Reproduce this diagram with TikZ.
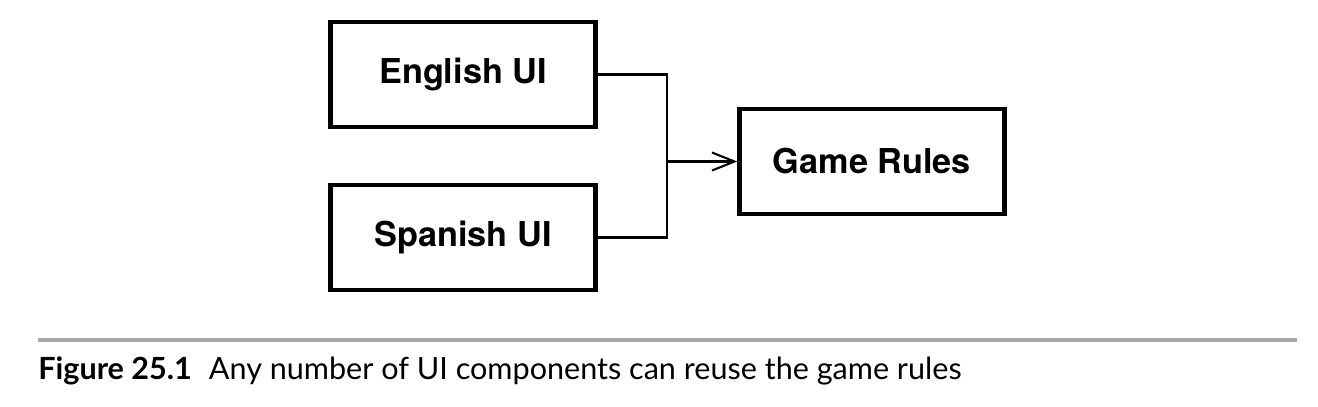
\documentclass[tikz,border=0pt]{standalone}
\usepackage{fontspec}
\setmainfont{TeX Gyre Heros}
\newfontfamily\capfont{Lato}
\usetikzlibrary{arrows.meta}

\begin{document}
\begin{tikzpicture}[x=0.02cm, y=-0.02cm,
    box/.style={draw, line width=2.5pt, minimum width=5.3cm, minimum height=2.1cm, font=\fontsize{19.5}{22}\selectfont\bfseries},
    wire/.style={line width=1.2pt}]
    \useasboundingbox (0,0) rectangle (1318,406);
                \node[box] (eng) at (463,74.5) {English UI};
                \node[box] (spa) at (463,237.5) {Spanish UI};
                \node[box] (rules) at (872,161.5) {Game Rules};
                \coordinate (join) at (667,161.5);
                \draw[wire] (eng.east) -| (join);
                \draw[wire] (spa.east) -| (join);
                \draw[wire, -{Straight Barb[length=4.5mm, width=3.6mm]}] (join) -- (rules.west);

                \coordinate (ruleL) at (38,340);
                \coordinate (ruleR) at (1297,340);
                \draw[color={rgb,255:red,170;green,170;blue,170}, line width=2.2pt] (ruleL) -- (ruleR);
                \node[anchor=base west, inner sep=0pt, font=\capfont\fontsize{17.4}{20}\selectfont] (caption) at (38,379)
                    {\textbf{Figure 25.1}\hspace{0.3em} Any number of UI components can reuse the game rules};
            \end{tikzpicture}
\end{document}
